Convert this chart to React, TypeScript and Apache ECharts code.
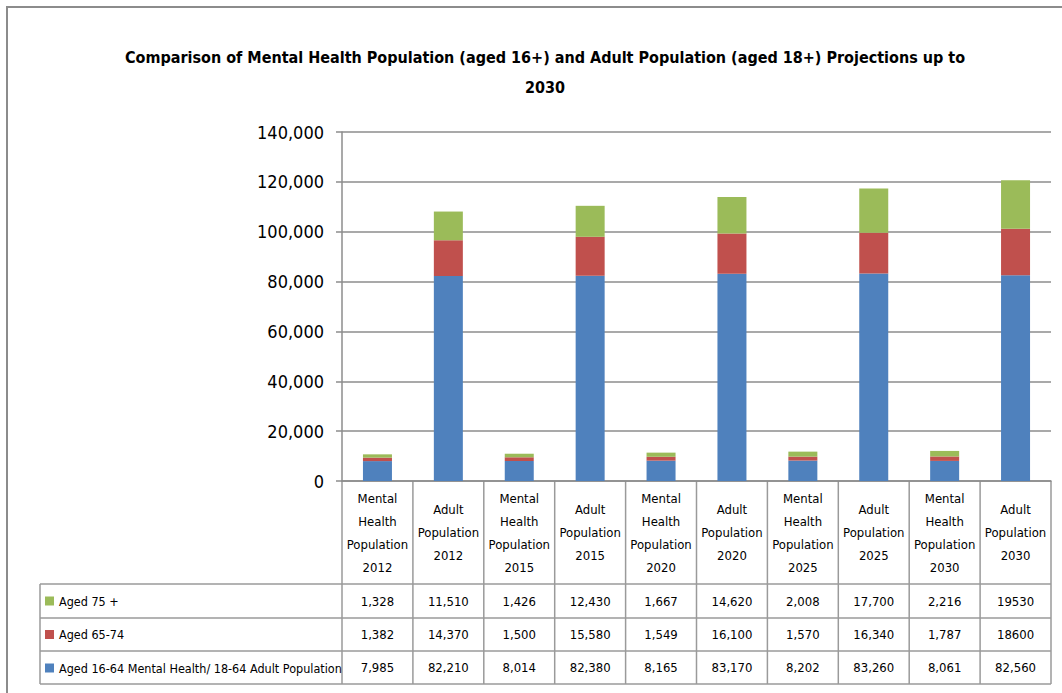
import React, { useEffect, useRef } from "react";
import * as echarts from "echarts";

const categories = [
  "Mental\nHealth\nPopulation\n2012",
  "Adult\nPopulation\n2012",
  "Mental\nHealth\nPopulation\n2015",
  "Adult\nPopulation\n2015",
  "Mental\nHealth\nPopulation\n2020",
  "Adult\nPopulation\n2020",
  "Mental\nHealth\nPopulation\n2025",
  "Adult\nPopulation\n2025",
  "Mental\nHealth\nPopulation\n2030",
  "Adult\nPopulation\n2030",
];

const seriesNames = [
  "Aged 75 +",
  "Aged 65-74",
  "Aged 16-64 Mental Health/ 18-64 Adult Population",
];

const aged1664 = [7985, 82210, 8014, 82380, 8165, 83170, 8202, 83260, 8061, 82560];
const aged6574 = [1382, 14370, 1500, 15580, 1549, 16100, 1570, 16340, 1787, 18600];
const aged75 = [1328, 11510, 1426, 12430, 1667, 14620, 2008, 17700, 2216, 19530];

// table cells [row, column] printed without thousands separators (row 0 = Aged 75 +)
const plainFormatCells = [
  [0, 9],
  [1, 9],
];

const yMin = 0;
const yMax = 140000;
const yInterval = 20000;

const title =
  "Comparison of Mental Health Population (aged 16+) and Adult Population (aged 18+) Projections up to\n2030";

const COLORS = { blue: "#4F81BD", red: "#C0504D", green: "#9BBB59" };
const FONT = "'DejaVu Sans Condensed', 'Liberation Sans Narrow', sans-serif";

const fmt = (v: number, row: number, col: number) =>
  plainFormatCells.some(([r, c]) => r === row && c === col)
    ? String(v)
    : v.toLocaleString("en-US");

export default function App() {
  const ref = useRef<HTMLDivElement>(null);

  useEffect(() => {
    if (!ref.current) return;
    const chart = echarts.init(ref.current, undefined, { renderer: "svg" });

    const W = 1062;
    const H = 693;
    const gridLeft = 342;
    const gridRight = 1051;
    const gridTop = 132;
    const gridBottom = 481;
    const headerBottom = 584;
    const rowLines = [584, 618, 651, 684];
    const tableLeft = 40;
    const colW = (gridRight - gridLeft) / categories.length;
    const tableColor = "#9a9a9a";
    const gridColor = "#8c8c8c";

    const graphics: any[] = [];
    graphics.push({
      type: "rect",
      shape: { x: 7, y: 7, width: 1200, height: 1000 },
      style: { fill: "none", stroke: "#8c8c8c", lineWidth: 2 },
      z: 0,
    });
    rowLines.forEach((y) => {
      graphics.push({
        type: "line",
        shape: { x1: tableLeft, y1: y, x2: gridRight, y2: y },
        style: { stroke: tableColor, lineWidth: 1.5 },
      });
    });
    graphics.push({
      type: "line",
      shape: { x1: tableLeft, y1: headerBottom, x2: tableLeft, y2: rowLines[3] },
      style: { stroke: tableColor, lineWidth: 1.5 },
    });
    for (let i = 0; i <= categories.length; i++) {
      const x = gridLeft + i * colW;
      graphics.push({
        type: "line",
        shape: { x1: x, y1: gridBottom, x2: x, y2: rowLines[3] },
        style: { stroke: tableColor, lineWidth: 1.5 },
      });
    }

    const rowCenters = [601, 634.5, 667.5];
    const rowData = [aged75, aged6574, aged1664];

    const valueAxes = rowData.map((arr, k) => ({
      type: "category",
      gridIndex: 0,
      position: "bottom",
      data: arr.map((v, i) => fmt(v, k, i)),
      axisLine: { show: false },
      axisTick: { show: false },
      splitLine: { show: false },
      axisLabel: {
        interval: 0,
        margin: rowCenters[k] - gridBottom,
        verticalAlign: "middle",
        fontFamily: FONT,
        fontSize: 13,
        color: "#000",
      },
    }));

    chart.setOption({
      animation: false,
      backgroundColor: "#fff",
      title: {
        text: title,
        left: 540,
        top: 37,
        textAlign: "center",
        textStyle: {
          fontFamily: FONT,
          fontSize: 16,
          fontWeight: "bold",
          lineHeight: 30,
          color: "#000",
        },
      },
      legend: {
        data: seriesNames,
        orient: "vertical",
        left: 45,
        top: 592.5,
        padding: 0,
        itemWidth: 9,
        itemHeight: 9,
        itemGap: 16.5,
        itemTextGap: 3,
        icon: "rect",
        selectedMode: false,
        textStyle: { fontFamily: FONT, fontSize: 12.5, lineHeight: 17, color: "#000" },
      },
      grid: {
        left: gridLeft,
        right: W - gridRight,
        top: gridTop,
        bottom: H - gridBottom,
        containLabel: false,
      },
      xAxis: [
        {
          type: "category",
          data: categories,
          axisLine: { show: true, lineStyle: { color: gridColor, width: 1.5 } },
          axisTick: { show: false },
          splitLine: { show: false },
          axisLabel: {
            interval: 0,
            margin: 51.5,
            verticalAlign: "middle",
            align: "center",
            fontFamily: FONT,
            fontSize: 13,
            lineHeight: 23,
            color: "#000",
          },
        },
        ...valueAxes,
      ],
      yAxis: {
        type: "value",
        min: yMin,
        max: yMax,
        interval: yInterval,
        axisLine: { show: true, lineStyle: { color: gridColor, width: 1.5 } },
        axisTick: { show: true, length: 6, lineStyle: { color: gridColor, width: 1.5 } },
        splitLine: { show: true, lineStyle: { color: gridColor, width: 1.5 } },
        axisLabel: {
          margin: 18,
          fontFamily: FONT,
          fontSize: 18,
          color: "#000",
          formatter: (v: number) => v.toLocaleString("en-US"),
        },
      },
      series: [
        {
          name: seriesNames[2],
          type: "bar",
          stack: "total",
          data: aged1664,
          barWidth: 29,
          itemStyle: { color: COLORS.blue },
        },
        {
          name: seriesNames[1],
          type: "bar",
          stack: "total",
          data: aged6574,
          barWidth: 29,
          itemStyle: { color: COLORS.red },
        },
        {
          name: seriesNames[0],
          type: "bar",
          stack: "total",
          data: aged75,
          barWidth: 29,
          itemStyle: { color: COLORS.green },
        },
      ],
      graphic: graphics,
    });

    return () => chart.dispose();
  }, []);

  return (
    <div
      ref={ref}
      style={{ position: "fixed", left: 0, top: 0, width: 1062, height: 693 }}
    />
  );
}
